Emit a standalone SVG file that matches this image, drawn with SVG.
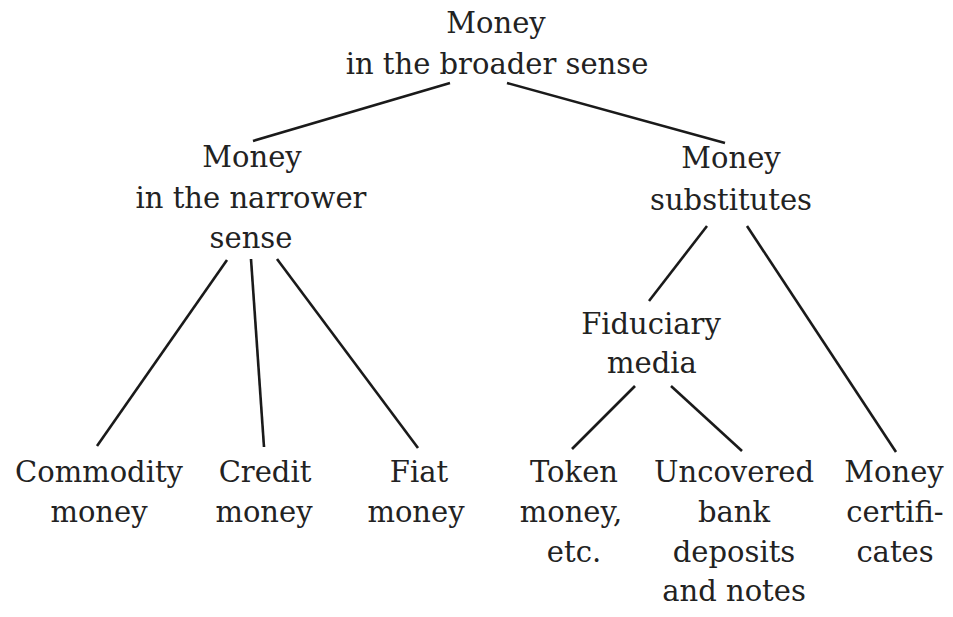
<svg xmlns="http://www.w3.org/2000/svg" width="953" height="617" viewBox="0 0 953 617">
<style>
text{font-family:"DejaVu Serif","Liberation Serif",serif;font-size:29px;fill:#222;text-anchor:middle}
.c line{stroke:#1a1a1a;stroke-width:2.6;stroke-linecap:butt}
</style>
<rect width="953" height="617" fill="#fff"/>
<g class="c" id="connectors">
<line x1="450" y1="83" x2="253" y2="141"/>
<line x1="507" y1="83" x2="725" y2="143"/>
<line x1="227" y1="260" x2="97" y2="446"/>
<line x1="251" y1="259" x2="264" y2="447"/>
<line x1="277" y1="259" x2="418" y2="448"/>
<line x1="707" y1="226" x2="649" y2="301"/>
<line x1="747" y1="226" x2="896" y2="452"/>
<line x1="635" y1="386" x2="572" y2="449"/>
<line x1="671" y1="386" x2="742" y2="451"/>
</g>
<g id="broad"><text x="496" y="33">Money</text><text x="497" y="74">in the broader sense</text></g>
<g id="narrow"><text x="252" y="167">Money</text><text x="251" y="208">in the narrower</text><text x="251" y="248">sense</text></g>
<g id="subst"><text x="731" y="168">Money</text><text x="731" y="210">substitutes</text></g>
<g id="fiduciary"><text x="651" y="334">Fiduciary</text><text x="652" y="373">media</text></g>
<g id="commodity"><text x="99" y="482">Commodity</text><text x="99" y="522">money</text></g>
<g id="credit"><text x="265" y="482">Credit</text><text x="264" y="522">money</text></g>
<g id="fiat"><text x="419" y="482">Fiat</text><text x="416" y="522">money</text></g>
<g id="token"><text x="574" y="482">Token</text><text x="571" y="522">money,</text><text x="574" y="562">etc.</text></g>
<g id="uncovered"><text x="734" y="482">Uncovered</text><text x="734" y="522">bank</text><text x="734" y="562">deposits</text><text x="734" y="601">and notes</text></g>
<g id="certificates"><text x="894" y="482">Money</text><text x="895" y="522">certifi-</text><text x="895" y="562">cates</text></g>
</svg>
